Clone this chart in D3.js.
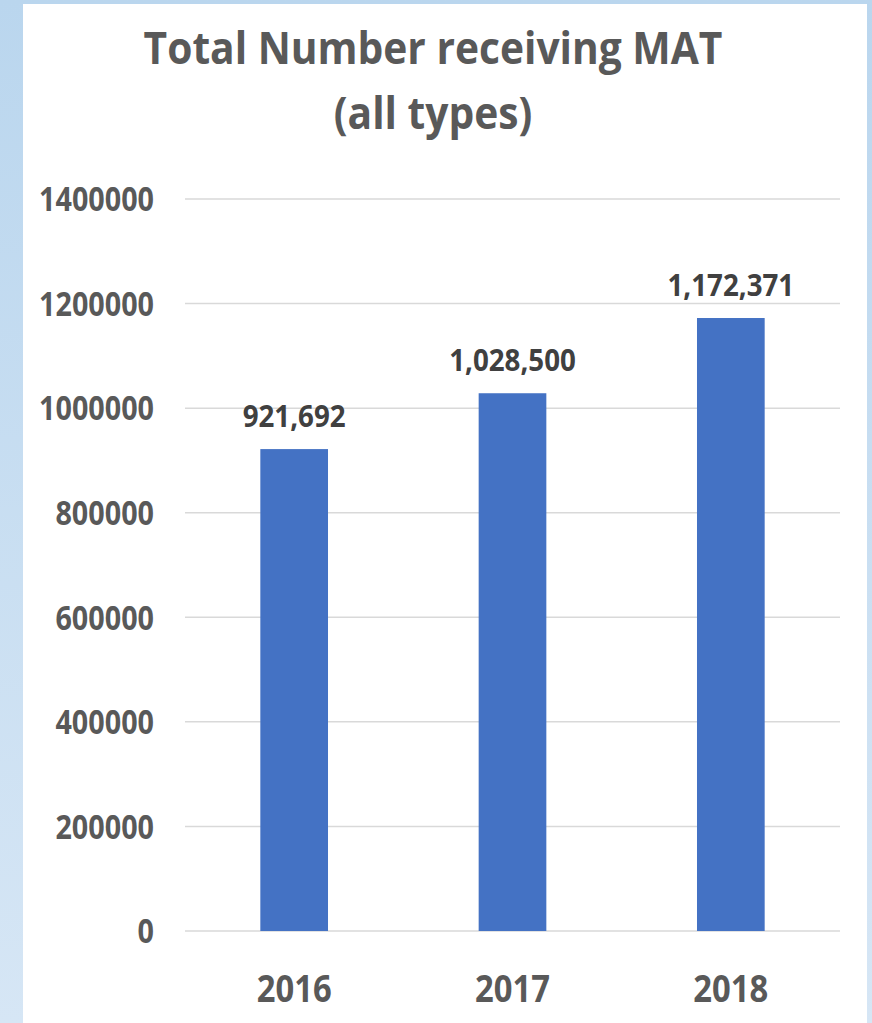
<!DOCTYPE html>
<html>
<head>
<meta charset="utf-8">
<script src="https://cdn.jsdelivr.net/npm/d3@7"></script>
<style>
  html, body { margin: 0; padding: 0; }
  body { width: 872px; height: 1023px; overflow: hidden; }
  svg { display: block; }
  text { font-family: "Open Sans", "Noto Sans", sans-serif; font-weight: bold; }
</style>
</head>
<body>
<svg id="chart" width="872" height="1023"></svg>
<script>
const categories = ["2016", "2017", "2018"];
const values = [921692, 1028500, 1172371];
const valueLabels = ["921,692", "1,028,500", "1,172,371"];
const tickValues = [0, 200000, 400000, 600000, 800000, 1000000, 1200000, 1400000];
const titleLines = ["Total Number receiving MAT", "(all types)"];

const W = 872, H = 1023;
const svg = d3.select("#chart");

const defs = svg.append("defs");
const grad = defs.append("linearGradient").attr("id", "bg").attr("x1", 0).attr("y1", 0).attr("x2", 0).attr("y2", 1);
grad.append("stop").attr("offset", "0%").attr("stop-color", "#bad6ee");
grad.append("stop").attr("offset", "100%").attr("stop-color", "#d6e6f5");

svg.append("rect").attr("width", W).attr("height", H).attr("fill", "url(#bg)");
svg.append("rect").attr("x", 23).attr("y", 4).attr("width", 844).attr("height", H - 4).attr("fill", "#ffffff");

const plot = { left: 185, right: 840, top: 199, bottom: 931 };

const x = d3.scaleBand().domain(categories).range([plot.left, plot.right]).paddingInner(0.69).paddingOuter(0.345);
const y = d3.scaleLinear().domain([0, 1400000]).range([plot.bottom, plot.top]);

// measure helper: horizontal compression so the available font matches the narrower original face
function measure(str, size) {
  const t = svg.append("text").attr("font-size", size).text(str);
  const w = t.node().getComputedTextLength();
  t.remove();
  return w;
}

// gridlines
svg.append("g").selectAll("line").data(tickValues).join("line")
  .attr("x1", plot.left).attr("x2", plot.right)
  .attr("y1", d => y(d)).attr("y2", d => y(d))
  .attr("stroke", "#d9d9d9").attr("stroke-width", 1.5);

// y axis labels
const tickSize = 34;
const tickSx = 115 / measure("1400000", tickSize);
svg.append("g").selectAll("text").data(tickValues).join("text")
  .attr("transform", d => `translate(154,${y(d)}) scale(${tickSx},1)`)
  .attr("dy", "0.36em")
  .attr("text-anchor", "end")
  .attr("fill", "#595959")
  .attr("font-size", tickSize)
  .text(d => d3.format("d")(d));

// bars
svg.append("g").selectAll("rect").data(values).join("rect")
  .attr("x", (d, i) => x(categories[i]))
  .attr("width", x.bandwidth())
  .attr("y", d => y(d))
  .attr("height", d => y(0) - y(d))
  .attr("fill", "#4472c4");

// value labels
const valSize = 31;
const valSx = 103 / measure("921,692", valSize);
svg.append("g").selectAll("text").data(values).join("text")
  .attr("transform", (d, i) => `translate(${x(categories[i]) + x.bandwidth() / 2},${y(d) - 22}) scale(${valSx},1)`)
  .attr("text-anchor", "middle")
  .attr("fill", "#404040")
  .attr("font-size", valSize)
  .text((d, i) => valueLabels[i]);

// x axis labels
const catSize = 38;
const catSx = 75 / measure("2016", catSize);
svg.append("g").selectAll("text").data(categories).join("text")
  .attr("transform", d => `translate(${x(d) + x.bandwidth() / 2},1002) scale(${catSx},1)`)
  .attr("text-anchor", "middle")
  .attr("fill", "#595959")
  .attr("font-size", catSize)
  .text(d => d);

// title
const titleSize = 45;
const titleSx = 579 / measure(titleLines[0], titleSize);
svg.append("g").selectAll("text").data(titleLines).join("text")
  .attr("transform", (d, i) => `translate(433,${64 + i * 65}) scale(${titleSx},1)`)
  .attr("text-anchor", "middle")
  .attr("fill", "#595959")
  .attr("font-size", titleSize)
  .text(d => d);
</script>
</body>
</html>
